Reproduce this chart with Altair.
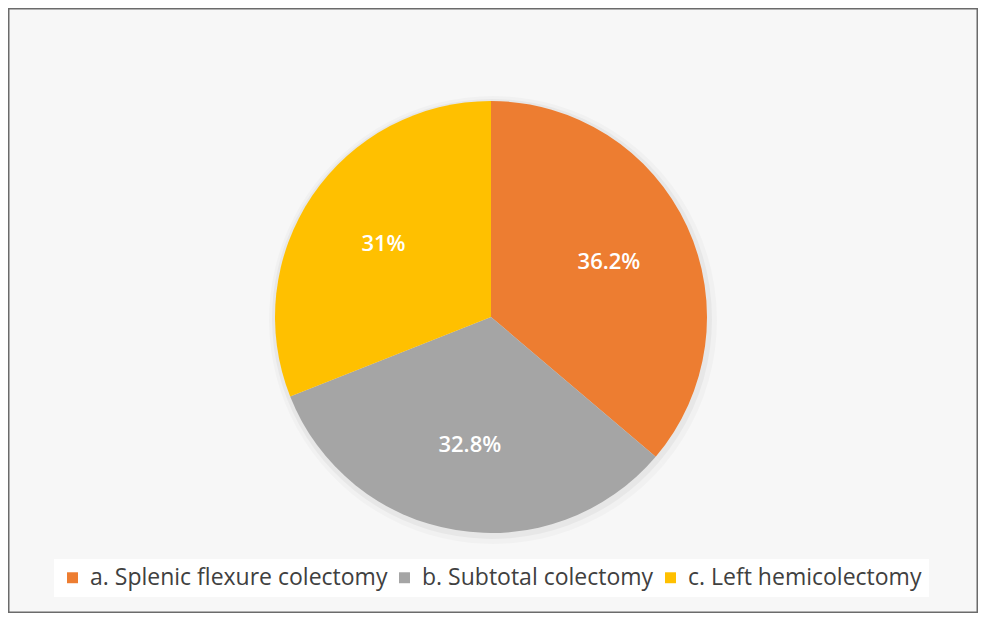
import altair as alt
import pandas as pd

categories = ["a. Splenic flexure colectomy", "b. Subtotal colectomy", "c. Left hemicolectomy"]
values = [36.2, 32.8, 31.0]
labels = ["36.2%", "32.8%", "31%"]
colors = ["#ED7D31", "#A5A5A5", "#FFC000"]
order = [0, 1, 2]

df = pd.DataFrame({"category": categories, "value": values, "label": labels, "order": order})

cx, cy = 483, 309

base = alt.Chart(df).encode(
    theta=alt.Theta("value:Q", stack=True),
    order=alt.Order("order:Q"),
)

shadow1 = base.mark_arc(outerRadius=224, fill="#000000", opacity=0.025).encode(
    x=alt.value(cx + 2), y=alt.value(cy + 3))
shadow2 = base.mark_arc(outerRadius=220, fill="#000000", opacity=0.04).encode(
    x=alt.value(cx + 1), y=alt.value(cy + 2))

pie = base.mark_arc(outerRadius=216).encode(
    x=alt.value(cx), y=alt.value(cy),
    color=alt.Color(
        "category:N",
        scale=alt.Scale(domain=categories, range=colors),
        legend=alt.Legend(
            title=None,
            orient="none",
            direction="horizontal",
            legendX=46,
            legendY=551,
            symbolType="square",
            symbolSize=120,
            symbolStrokeWidth=0,
            labelFont="Open Sans",
            labelFontSize=23,
            labelColor="#404040",
            labelLimit=500,
            labelOffset=6,
            columnPadding=5,
            fillColor="#ffffff",
            padding=7,
        ),
    ),
)

text = base.mark_text(radius=130, fontSize=22, fontWeight=600, font="Open Sans", color="white").encode(
    x=alt.value(cx), y=alt.value(cy),
    text="label:N",
)

chart = alt.layer(shadow1, shadow2, pie, text).properties(
    width=970, height=605, padding=0, background="#ffffff"
).configure_view(
    fill="#f7f7f7", stroke="#6b6b6b", strokeWidth=3
)

chart.save("out.html", embed_options={"renderer": "svg", "actions": False})
